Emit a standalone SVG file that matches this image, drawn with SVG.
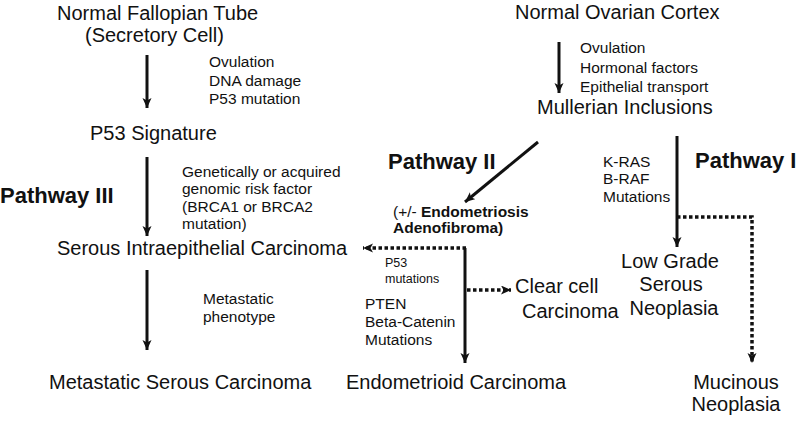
<svg xmlns="http://www.w3.org/2000/svg" width="800" height="422" viewBox="0 0 800 422">
<defs>
<marker id="ah" markerUnits="userSpaceOnUse" markerWidth="12" markerHeight="10" refX="10" refY="4.5" orient="auto">
<path d="M0,0 L10,4.5 L0,9 L2.5,4.5 z" fill="#111"/>
</marker>
</defs>
<style>
text{font-family:"Liberation Sans",Arial,sans-serif;fill:#111}
.big{font-size:20px}
.sm{font-size:15.5px}
.xs{font-size:12.5px}
.pw{font-size:22px;font-weight:bold}
.b{font-weight:bold}
.mid{text-anchor:middle}
.solid{stroke:#111;stroke-width:3;fill:none;marker-end:url(#ah)}
.dot{stroke:#111;stroke-width:3.5;fill:none;stroke-dasharray:3.5 2.5}
.dota{stroke:#111;stroke-width:3.5;fill:none;stroke-dasharray:3.5 2.5;marker-end:url(#ah)}
</style>
<rect width="800" height="422" fill="#fff"/>
<g id="connectors">
<line class="solid" x1="147" y1="55" x2="147" y2="108"/>
<line class="solid" x1="147" y1="157" x2="147" y2="236"/>
<line class="solid" x1="147" y1="270" x2="147" y2="350"/>
<line class="solid" x1="559" y1="42" x2="559" y2="93"/>
<line class="solid" x1="538" y1="142" x2="465" y2="202"/>
<line class="solid" x1="677" y1="136" x2="677" y2="247"/>
<polyline class="dota" points="677,217 752,217 752,363"/>
<line class="dota" x1="466" y1="248" x2="363" y2="248"/>
<line class="solid" x1="465" y1="248" x2="465" y2="363"/>
<line class="dota" x1="467" y1="290" x2="511" y2="290"/>
</g>
<g id="labels">
<text class="sm" x="209" y="67">Ovulation</text>
<text class="sm" x="209" y="85.5">DNA damage</text>
<text class="sm" x="209" y="104">P53 mutation</text>
<text class="sm" x="182" y="176.5">Genetically or acquired</text>
<text class="sm" x="182" y="194">genomic risk factor</text>
<text class="sm" x="182" y="211.5">(BRCA1 or BRCA2</text>
<text class="sm" x="182" y="229">mutation)</text>
<text class="sm" x="203" y="304">Metastatic</text>
<text class="sm" x="203" y="322">phenotype</text>
<text class="sm" x="580" y="53">Ovulation</text>
<text class="sm" x="580" y="72.5">Hormonal factors</text>
<text class="sm" x="580" y="92">Epithelial transport</text>
<text class="sm" x="603" y="167">K-RAS</text>
<text class="sm" x="603" y="184">B-RAF</text>
<text class="sm" x="603" y="202">Mutations</text>
<text class="xs" x="385" y="267">P53</text>
<text class="xs" x="385" y="283">mutations</text>
<text class="sm" x="365" y="309">PTEN</text>
<text class="sm" x="365" y="327">Beta-Catenin</text>
<text class="sm" x="365" y="345">Mutations</text>
<text class="pw" x="0" y="203">Pathway III</text>
<text class="pw" x="388" y="169">Pathway II</text>
<text class="pw" x="695" y="168">Pathway I</text>
</g>
<g id="fallopian">
<text class="big" x="57" y="19.5">Normal Fallopian Tube</text>
<text class="big" x="85" y="42">(Secretory Cell)</text>
</g>
<g id="p53sig"><text class="big" x="90" y="140">P53 Signature</text></g>
<g id="serous-intra"><text class="big" x="57" y="255">Serous Intraepithelial Carcinoma</text></g>
<g id="metastatic"><text class="big" x="49" y="389">Metastatic Serous Carcinoma</text></g>
<g id="ovarian"><text class="big" x="515" y="19">Normal Ovarian Cortex</text></g>
<g id="mullerian"><text class="big" x="537" y="114">Mullerian Inclusions</text></g>
<g id="endometriosis">
<text class="sm" x="393" y="217">(+/- <tspan class="b">Endometriosis</tspan></text>
<text class="sm b" x="393" y="233">Adenofibroma)</text>
</g>
<g id="clearcell">
<text class="big" x="515" y="293">Clear cell</text>
<text class="big" x="522" y="318">Carcinoma</text>
</g>
<g id="endometrioid"><text class="big" x="346" y="389">Endometrioid Carcinoma</text></g>
<g id="lowgrade">
<text class="big mid" x="670" y="268">Low Grade</text>
<text class="big mid" x="671" y="291">Serous</text>
<text class="big mid" x="674" y="315">Neoplasia</text>
</g>
<g id="mucinous">
<text class="big mid" x="736" y="389">Mucinous</text>
<text class="big mid" x="736" y="411">Neoplasia</text>
</g>
</svg>
